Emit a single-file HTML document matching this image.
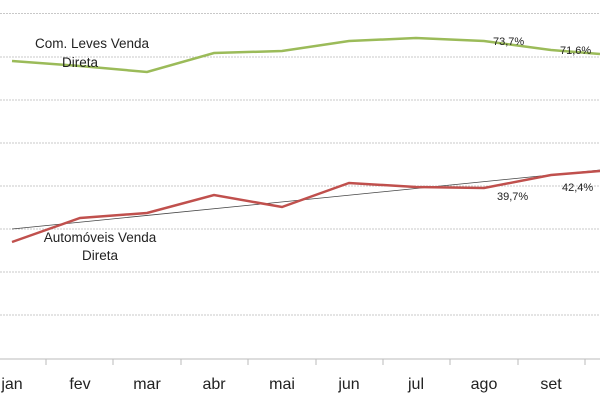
<!DOCTYPE html>
<html><head><style>
body{margin:0;background:#fff;}
svg{display:block;font-family:"Liberation Sans",sans-serif;}
</style></head><body>
<svg width="600" height="400" viewBox="0 0 600 400">
<g stroke="#c8c8c8" stroke-width="1" stroke-dasharray="2,1">
<line x1="0" y1="13.5" x2="600" y2="13.5"/>
<line x1="0" y1="57" x2="600" y2="57"/>
<line x1="0" y1="100" x2="600" y2="100"/>
<line x1="0" y1="143" x2="600" y2="143"/>
<line x1="0" y1="186" x2="600" y2="186"/>
<line x1="0" y1="229" x2="600" y2="229"/>
<line x1="0" y1="272" x2="600" y2="272"/>
<line x1="0" y1="315" x2="600" y2="315"/>
</g>
<line x1="0" y1="359" x2="600" y2="359" stroke="#bbb"/>
<g stroke="#bbb">
<line x1="46" y1="359" x2="46" y2="365"/><line x1="113" y1="359" x2="113" y2="365"/>
<line x1="181" y1="359" x2="181" y2="365"/><line x1="248" y1="359" x2="248" y2="365"/>
<line x1="316" y1="359" x2="316" y2="365"/><line x1="383" y1="359" x2="383" y2="365"/>
<line x1="450" y1="359" x2="450" y2="365"/><line x1="518" y1="359" x2="518" y2="365"/>
<line x1="585" y1="359" x2="585" y2="365"/>
</g>
<g font-size="16" fill="#222" text-anchor="middle">
<text x="12" y="389">jan</text><text x="80" y="389">fev</text><text x="147" y="389">mar</text>
<text x="214" y="389">abr</text><text x="282" y="389">mai</text><text x="349" y="389">jun</text>
<text x="416" y="389">jul</text><text x="484" y="389">ago</text><text x="551" y="389">set</text>
</g>
<polyline fill="none" stroke="#9bbb59" stroke-width="2.5" points="12,61 80,66 147,72 214,53 282,51 349,41 416,38 484,41 551,50 600,54"/>
<line x1="12" y1="229" x2="600" y2="170" stroke="#444" stroke-width="0.8"/>
<polyline fill="none" stroke="#c0504d" stroke-width="2.5" points="12,242 80,218 147,213 214,195 282,207 349,183 416,187 484,188 551,175 600,171"/>
<g font-size="13.5" fill="#222" text-anchor="middle">
<text x="92" y="48">Com. Leves Venda</text><text x="80" y="67">Direta</text>
<text x="100" y="242">Automóveis Venda</text><text x="100" y="260">Direta</text>
</g>
<g font-size="11" fill="#222">
<text x="493" y="45">73,7%</text><text x="560" y="54">71,6%</text>
<text x="497" y="200">39,7%</text><text x="562" y="191">42,4%</text>
</g>
</svg>
</body></html>
